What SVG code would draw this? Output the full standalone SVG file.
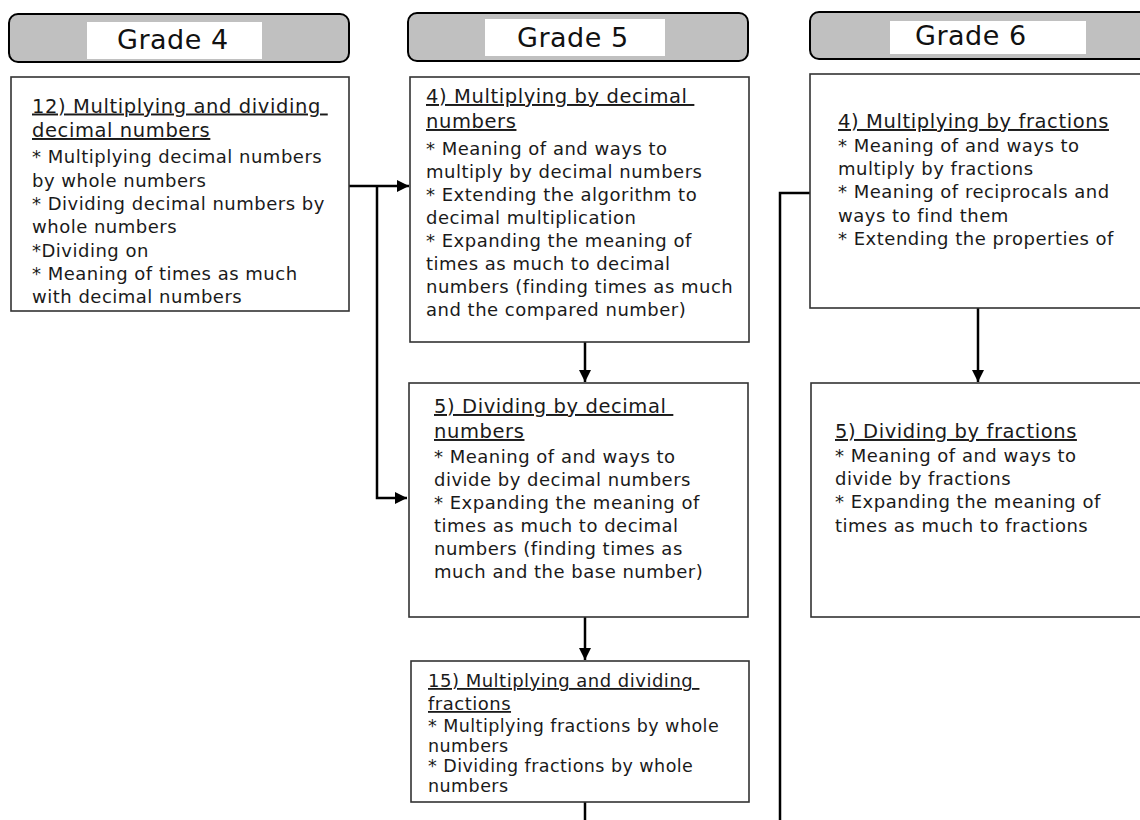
<svg xmlns="http://www.w3.org/2000/svg" width="1140" height="820" viewBox="0 0 1140 820">
<defs>
<style>
.hdr{fill:#c0c0c0;stroke:#000;stroke-width:2}
.hw{fill:#fff;stroke:none}
.ht{font-family:"DejaVu Sans",Verdana,sans-serif;font-size:27px;letter-spacing:0.5px;fill:#111}
.box{fill:#fff;stroke:#333;stroke-width:1.6}
.t{font-family:"DejaVu Sans",Verdana,sans-serif;font-size:19.5px;letter-spacing:0.6px;fill:#1a1a1a;text-decoration:underline}
.b{font-family:"DejaVu Sans",Verdana,sans-serif;font-size:18px;letter-spacing:0.5px;fill:#1a1a1a}
.ts{font-family:"DejaVu Sans",Verdana,sans-serif;font-size:18px;letter-spacing:0.5px;fill:#1a1a1a;text-decoration:underline}
.bs{font-family:"DejaVu Sans",Verdana,sans-serif;font-size:17.5px;letter-spacing:0.45px;fill:#1a1a1a}
.c{fill:none;stroke:#000;stroke-width:2.5}
</style>
<marker id="ah" markerUnits="userSpaceOnUse" markerWidth="14" markerHeight="12" refX="12" refY="6" orient="auto">
<path d="M0,0 L12,6 L0,12 Z" fill="#000"/>
</marker>
</defs>

<g id="header-grade4">
<rect class="hdr" x="9" y="14" width="340" height="48" rx="9"/>
<rect class="hw" x="87" y="22" width="175" height="37"/>
<text class="ht" x="117" y="49">Grade 4</text>
</g>
<g id="header-grade5">
<rect class="hdr" x="408" y="13" width="340" height="48" rx="9"/>
<rect class="hw" x="485" y="19" width="180" height="37"/>
<text class="ht" x="517" y="47">Grade 5</text>
</g>
<g id="header-grade6">
<rect class="hdr" x="810" y="12" width="360" height="47" rx="9"/>
<rect class="hw" x="890" y="21" width="196" height="33"/>
<text class="ht" x="915" y="45">Grade 6</text>
</g>

<g id="connectors">
<path class="c" d="M349,186 L409,186" marker-end="url(#ah)"/>
<path class="c" d="M377,186 L377,498 L407,498" marker-end="url(#ah)"/>
<path class="c" d="M585,342 L585,382" marker-end="url(#ah)"/>
<path class="c" d="M585,617 L585,660" marker-end="url(#ah)"/>
<path class="c" d="M585,802 L585,820"/>
<path class="c" d="M810,193 L780,193 L780,820"/>
<path class="c" d="M978,308 L978,382" marker-end="url(#ah)"/>
</g>

<g id="node-g4-12">
<rect class="box" x="11" y="77" width="338" height="234"/>
<text class="t" x="32" y="112.5" xml:space="preserve">12) Multiplying and dividing </text>
<text class="t" x="32" y="137">decimal numbers</text>
<text class="b" x="32" y="163">* Multiplying decimal numbers</text>
<text class="b" x="32" y="186.5">by whole numbers</text>
<text class="b" x="32" y="210">* Dividing decimal numbers by</text>
<text class="b" x="32" y="233">whole numbers</text>
<text class="b" x="32" y="256.5">*Dividing on</text>
<text class="b" x="32" y="280">* Meaning of times as much</text>
<text class="b" x="32" y="303">with decimal numbers</text>
</g>

<g id="node-g5-4">
<rect class="box" x="410" y="77" width="339" height="265"/>
<text class="t" x="426" y="103" xml:space="preserve">4) Multiplying by decimal </text>
<text class="t" x="426" y="128">numbers</text>
<text class="b" x="426" y="155">* Meaning of and ways to</text>
<text class="b" x="426" y="178">multiply by decimal numbers</text>
<text class="b" x="426" y="201">* Extending the algorithm to</text>
<text class="b" x="426" y="224">decimal multiplication</text>
<text class="b" x="426" y="247">* Expanding the meaning of</text>
<text class="b" x="426" y="270">times as much to decimal</text>
<text class="b" x="426" y="293">numbers (finding times as much</text>
<text class="b" x="426" y="316">and the compared number)</text>
</g>

<g id="node-g5-5">
<rect class="box" x="409" y="383" width="339" height="234"/>
<text class="t" x="434" y="413" xml:space="preserve">5) Dividing by decimal </text>
<text class="t" x="434" y="438">numbers</text>
<text class="b" x="434" y="463">* Meaning of and ways to</text>
<text class="b" x="434" y="486">divide by decimal numbers</text>
<text class="b" x="434" y="509">* Expanding the meaning of</text>
<text class="b" x="434" y="532">times as much to decimal</text>
<text class="b" x="434" y="555">numbers (finding times as</text>
<text class="b" x="434" y="578">much and the base number)</text>
</g>

<g id="node-g5-15">
<rect class="box" x="411" y="661" width="338" height="141"/>
<text class="ts" x="428" y="687" xml:space="preserve">15) Multiplying and dividing </text>
<text class="ts" x="428" y="710">fractions</text>
<text class="bs" x="428" y="732">* Multiplying fractions by whole</text>
<text class="bs" x="428" y="752">numbers</text>
<text class="bs" x="428" y="772">* Dividing fractions by whole</text>
<text class="bs" x="428" y="792">numbers</text>
</g>

<g id="node-g6-4">
<rect class="box" x="810" y="74" width="350" height="234"/>
<text class="t" x="838" y="128">4) Multiplying by fractions</text>
<text class="b" x="838" y="152">* Meaning of and ways to</text>
<text class="b" x="838" y="175">multiply by fractions</text>
<text class="b" x="838" y="198">* Meaning of reciprocals and</text>
<text class="b" x="838" y="222">ways to find them</text>
<text class="b" x="838" y="245">* Extending the properties of</text>
</g>

<g id="node-g6-5">
<rect class="box" x="811" y="383" width="350" height="234"/>
<text class="t" x="835" y="438">5) Dividing by fractions</text>
<text class="b" x="835" y="462">* Meaning of and ways to</text>
<text class="b" x="835" y="485">divide by fractions</text>
<text class="b" x="835" y="508">* Expanding the meaning of</text>
<text class="b" x="835" y="532">times as much to fractions</text>
</g>
</svg>
